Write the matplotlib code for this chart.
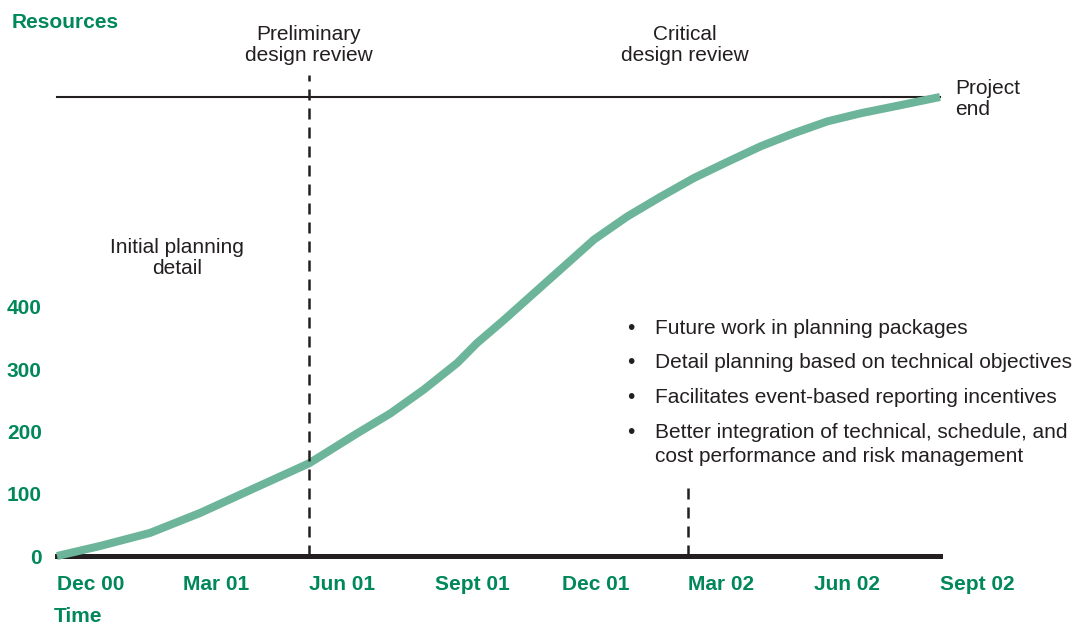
import matplotlib.pyplot as plt

plt.rcParams["font.family"] = ["Liberation Sans", "DejaVu Sans"]

GREEN = "#00875a"
CURVE = "#6db59a"
DARK = "#231f20"

# months after Dec 00 and planned resources
months = [0, 1.02, 2.21, 3.40, 4.60, 6.0, 7.14, 7.93, 8.72, 9.52, 9.99,
          10.63, 11.26, 12.14, 12.77, 13.56, 14.36, 15.15, 15.95, 16.74,
          17.53, 18.33, 19.12, 20.07, 21.0]
resources = [0, 16, 37, 69, 106, 149, 197, 229, 267, 310, 342, 379, 417,
             470, 508, 545, 577, 607, 633, 658, 679, 698, 711, 724, 737]

tick_months = [0, 3, 6, 9, 12, 15, 18, 21]
tick_labels = ["Dec 00", "Mar 01", "Jun 01", "Sept 01", "Dec 01", "Mar 02",
               "Jun 02", "Sept 02"]
y_ticks = [0, 100, 200, 300, 400]

pdr_month = 6
cdr_month = 15
project_end = 737

bullets = [
    "Future work in planning packages",
    "Detail planning based on technical objectives",
    "Facilitates event-based reporting incentives",
    "Better integration of technical, schedule, and\ncost performance and risk management",
]

W, H = 1081, 626
FS = 15
fig = plt.figure(figsize=(W / 100, H / 100), dpi=100)
ax = fig.add_axes([57 / W, (H - 556) / H, (940 - 57) / W, (556 - 97) / H])
ax.set_xlim(0, 21)
ax.set_ylim(0, project_end)

for s in ["top", "right", "left"]:
    ax.spines[s].set_visible(False)
ax.spines["bottom"].set_linewidth(3.6)
ax.spines["bottom"].set_color(DARK)

ax.plot(months, resources, color=CURVE, lw=5.8, solid_capstyle="butt",
        solid_joinstyle="round", zorder=3, clip_on=False)

# top limit line
ax.plot([months[0], months[-1]], [project_end, project_end], color=DARK,
        lw=1.5, zorder=2, clip_on=False)

# review markers
l1, = ax.plot([pdr_month, pdr_month], [0, 773], color=DARK, lw=1.8,
              clip_on=False, zorder=4)
l1.set_dashes((4.4, 3.2))
l2, = ax.plot([cdr_month, cdr_month], [0, 114], color=DARK, lw=1.8,
              clip_on=False, zorder=4)
l2.set_dashes((4.4, 3.2))

ax.set_xticks(tick_months)
ax.set_xticklabels(tick_labels, ha="left", color=GREEN, fontweight="bold",
                   fontsize=FS)
ax.set_yticks(y_ticks)
ax.set_yticklabels([str(v) for v in y_ticks], color=GREEN, fontweight="bold",
                   fontsize=FS)
ax.tick_params(axis="x", length=0, pad=14)
ax.tick_params(axis="y", length=0, pad=11)


def px(x, y):
    return x / W, 1 - y / H


fig.text(*px(12, 22), "Resources", color=GREEN, fontweight="bold",
         fontsize=FS, ha="left", va="center")
fig.text(*px(54, 617), "Time", color=GREEN, fontweight="bold",
         fontsize=FS, ha="left", va="center")

txt = dict(color=DARK, fontsize=FS, linespacing=1.08)
fig.text(*px(309, 45), "Preliminary\ndesign review", ha="center",
         va="center", **txt)
fig.text(*px(685, 45), "Critical\ndesign review", ha="center",
         va="center", **txt)
fig.text(*px(955, 99), "Project\nend", ha="left", va="center", **txt)
fig.text(*px(177, 258), "Initial planning\ndetail", ha="center",
         va="center", **txt)

ys = [327, 361, 396, 431]
for y, b in zip(ys, bullets):
    fig.text(*px(631, y - 8), "\u2022", ha="center", va="top", **txt)
    fig.text(*px(655, y - 8), b, ha="left", va="top",
             **{**txt, "linespacing": 1.3})

fig.savefig("out.png", dpi=100)
